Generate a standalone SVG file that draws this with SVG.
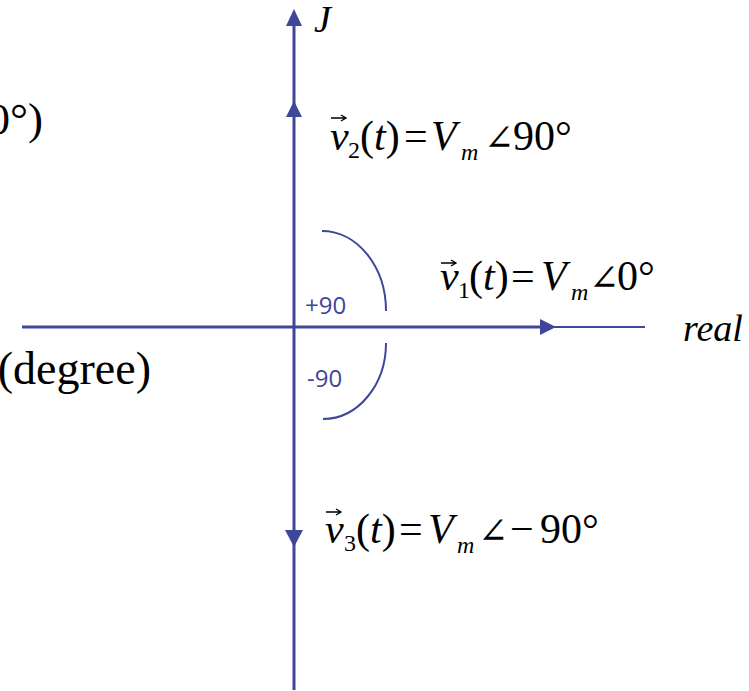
<svg xmlns="http://www.w3.org/2000/svg" width="749" height="691" viewBox="0 0 749 691">
<style>
.ax{stroke:#3f479a;fill:none}
.ah{fill:#3f479a}
.m{font-family:"Liberation Serif","DejaVu Serif",serif;font-size:42px;fill:#000}
.i{font-style:italic}
.sub{font-size:24px}
.ang{font-size:36px}
.lbl{font-family:"Open Sans","Noto Sans",sans-serif;font-size:24px;fill:#3f479a}
.va{stroke:#000;stroke-width:1.3;fill:none}
</style>
<rect width="749" height="691" fill="#fff"/>
<g id="connectors">
  <line class="ax" x1="22" y1="327" x2="548" y2="327" stroke-width="3"/>
  <line class="ax" x1="548" y1="327" x2="645" y2="327" stroke-width="2"/>
  <polygon class="ah" points="556,327 540,319 540,335"/>
  <line class="ax" x1="294" y1="20" x2="294" y2="690" stroke-width="3"/>
  <polygon class="ah" points="294,9 286,26 302,26"/>
  <polygon class="ah" points="294,101 286,117 302,117"/>
  <polygon class="ah" points="294,547 285,530 303,530"/>
  <path class="ax" stroke-width="2" d="M322,231 A64,80 0 0 1 386,311"/>
  <path class="ax" stroke-width="2" d="M386,343 A63,76 0 0 1 323,419"/>
</g>
<g id="axis-labels">
  <text class="m i" x="314" y="32" style="font-size:38px">J</text>
  <text class="m i" x="683" y="341" style="font-size:38px">real</text>
</g>
<g id="angle-labels">
  <text class="lbl" x="305" y="314">+90</text>
  <text class="lbl" x="307" y="387">-90</text>
</g>
<g id="v2">
  <path class="va" d="M331,118 H345 M341,115 L346,118 L341,121"/>
  <text class="m" y="150"><tspan class="i" x="330">v</tspan><tspan class="sub" x="348" dy="8">2</tspan><tspan x="360" dy="-8">(</tspan><tspan class="i">t</tspan><tspan>)</tspan><tspan x="404">=</tspan><tspan class="i" x="431">V</tspan><tspan class="i sub" x="461" dy="10">m</tspan><tspan class="ang" x="484" dy="-10">∠</tspan><tspan x="513">90°</tspan></text>
</g>
<g id="v1">
  <path class="va" d="M441,263 H455 M451,260 L456,263 L451,266"/>
  <text class="m" y="290"><tspan class="i" x="440">v</tspan><tspan class="sub" x="458" dy="8">1</tspan><tspan x="469" dy="-8">(</tspan><tspan class="i">t</tspan><tspan>)</tspan><tspan x="511">=</tspan><tspan class="i" x="541">V</tspan><tspan class="i sub" x="571" dy="10">m</tspan><tspan class="ang" x="589" dy="-10">∠</tspan><tspan x="617">0°</tspan></text>
</g>
<g id="v3">
  <path class="va" d="M326,512 H340 M336,509 L341,512 L336,515"/>
  <text class="m" y="543"><tspan class="i" x="325">v</tspan><tspan class="sub" x="344" dy="8">3</tspan><tspan x="356" dy="-8">(</tspan><tspan class="i">t</tspan><tspan>)</tspan><tspan x="399">=</tspan><tspan class="i" x="428">V</tspan><tspan class="i sub" x="457" dy="10">m</tspan><tspan class="ang" x="478" dy="-10">∠</tspan><tspan x="510">−</tspan><tspan x="540">90°</tspan></text>
</g>
<g id="left-texts">
  <text class="m" x="43" y="134" text-anchor="end" style="font-size:45px">0°)</text>
  <text class="m" x="151" y="384" text-anchor="end" style="font-size:46px">(degree)</text>
</g>
</svg>
